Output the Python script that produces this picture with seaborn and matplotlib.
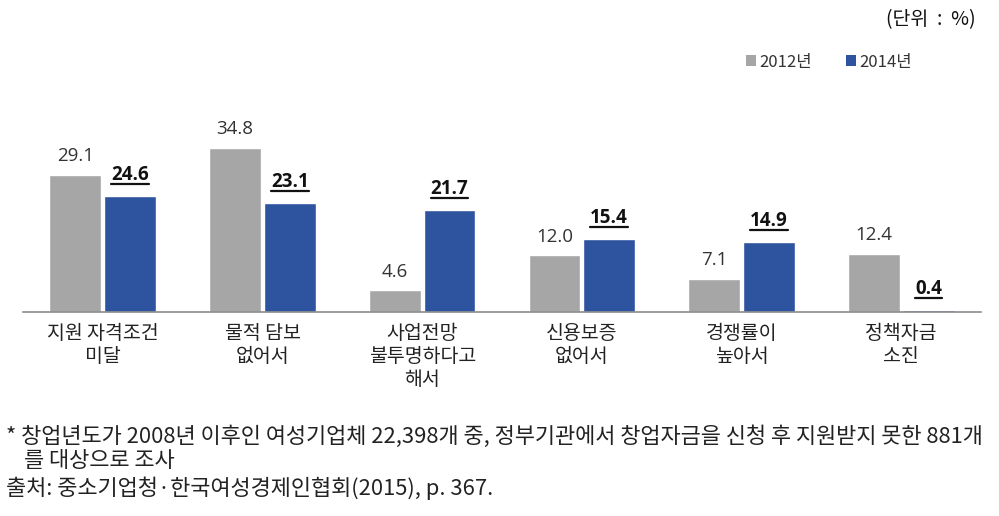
import matplotlib
matplotlib.use("Agg")
import matplotlib.pyplot as plt
import seaborn as sns
import pandas as pd
from matplotlib.lines import Line2D
from matplotlib.patches import Patch

categories = ["지원 자격조건\n미달", "물적 담보\n없어서", "사업전망\n불투명하다고\n해서",
              "신용보증\n없어서", "경쟁률이\n높아서", "정책자금\n소진"]
series_names = ["2012년", "2014년"]
values_2012 = [29.1, 34.8, 4.6, 12.0, 7.1, 12.4]
values_2014 = [24.6, 23.1, 21.7, 15.4, 14.9, 0.4]
unit_text = "(단위  :  %)"
footnote1 = "* 창업년도가 2008년 이후인 여성기업체 22,398개 중, 정부기관에서 창업자금을 신청 후 지원받지 못한 881개"
footnote2 = "를 대상으로 조사"
source_text = "출처: 중소기업청·한국여성경제인협회(2015), p. 367."

GRAY = "#A6A6A6"
BLUE = "#2E54A0"

sns.set_style("white")
plt.rcParams["font.family"] = ["Noto Sans CJK KR", "DejaVu Sans"]

df = pd.DataFrame({
    "cat": categories * 2,
    "year": [series_names[0]] * 6 + [series_names[1]] * 6,
    "val": values_2012 + values_2014,
})

fig = plt.figure(figsize=(9.99, 5.16), dpi=100)
ax = fig.add_axes([0.023, 1 - 312 / 516, 0.959, 212 / 516])
sns.barplot(data=df, x="cat", y="val", hue="year", palette=[GRAY, BLUE],
            width=0.685, gap=0.05, ax=ax, legend=False, saturation=1)

ax.set_ylim(0, 45)
ax.set_xlim(-0.5, 5.5)
ax.set_xlabel("")
ax.set_ylabel("")
ax.set_yticks([])
for s in ["top", "right", "left"]:
    ax.spines[s].set_visible(False)
ax.spines["bottom"].set_color("#8C8C8C")
ax.spines["bottom"].set_linewidth(1.2)
ax.set_xticks(range(6))
ax.set_xticklabels(categories, fontsize=14, color="#222222", linespacing=1.12)
ax.tick_params(axis="x", which="major", length=0, pad=8)
ax.set_xticks([i - 0.5 for i in range(7)], minor=True)
ax.tick_params(axis="x", which="minor", length=5, width=1, color="#8C8C8C", direction="out")

texts_2014 = []
for i, cont in enumerate(ax.containers):
    for bar, v in zip(cont, values_2012 if i == 0 else values_2014):
        x = bar.get_x() + bar.get_width() / 2
        y = bar.get_height()
        if i == 0:
            ax.annotate(f"{v:.1f}", (x, y), xytext=(0, 7), textcoords="offset points",
                        ha="center", va="bottom", fontsize=13.5, color="#333333",
                        family=["Open Sans", "DejaVu Sans"])
        else:
            t = ax.annotate(f"{v:.1f}", (x, y), xytext=(0, 8), textcoords="offset points",
                            ha="center", va="bottom", fontsize=13.5, color="#111111",
                            fontweight="bold", family=["Open Sans", "DejaVu Sans"])
            texts_2014.append(t)

# legend
handles = [Patch(facecolor=GRAY, edgecolor="none"), Patch(facecolor=BLUE, edgecolor="none")]
fig.legend(handles, series_names, loc="center", bbox_to_anchor=(829 / 999, 1 - 62 / 516),
           ncol=2, frameon=False, fontsize=12, handlelength=0.6, handleheight=0.6,
           handletextpad=0.2, columnspacing=2.0, labelcolor="#333333")

fig.text(976 / 999, 1 - 20 / 516, unit_text, ha="right", va="center", fontsize=14, color="#111111")

fs = 15.8
fig.text(6 / 999, 1 - 437 / 516, footnote1, ha="left", va="center", fontsize=fs, color="#222222")
fig.text(24 / 999, 1 - 461 / 516, footnote2, ha="left", va="center", fontsize=fs, color="#222222")
fig.text(6 / 999, 1 - 488 / 516, source_text, ha="left", va="center", fontsize=fs, color="#222222")

# underline 2014 labels
fig.canvas.draw()
r = fig.canvas.get_renderer()
inv = fig.transFigure.inverted()
for t in texts_2014:
    bb = t.get_window_extent(renderer=r)
    y = bb.y0 + 1
    (x0, yy0), (x1, yy1) = inv.transform([(bb.x0, y), (bb.x1, y)])
    fig.add_artist(Line2D([x0, x1], [yy0, yy1], transform=fig.transFigure,
                          color="#111111", linewidth=1.6))

fig.savefig("out.png", dpi=100)
